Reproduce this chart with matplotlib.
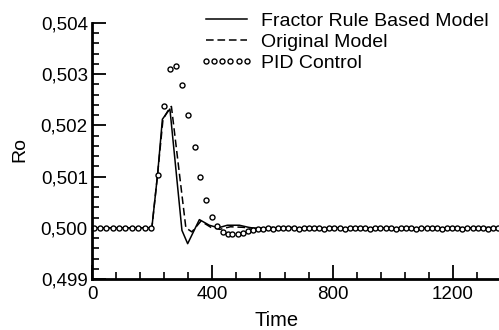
import matplotlib
matplotlib.use("Agg")
import matplotlib.pyplot as plt
from matplotlib.ticker import MultipleLocator, FixedLocator

plt.rcParams['font.family'] = ['Liberation Sans', 'DejaVu Sans']

# ---- data ----
frb_time = [0, 199, 218, 234, 251, 259, 299, 318, 357, 390, 420, 450, 490, 520, 540,
            560, 580, 600, 620, 640, 660, 680, 700, 720, 740, 760, 780, 800, 820, 840,
            860, 880, 900, 920, 940, 960, 980, 1000, 1020, 1040, 1060, 1080, 1100,
            1120, 1140, 1160, 1180, 1200, 1220, 1240, 1260, 1280, 1300, 1320, 1340, 1360]
frb_ro = [0.5, 0.5, 0.50104, 0.50212, 0.50226, 0.50232, 0.49995, 0.49969, 0.50016,
          0.50005, 0.50000, 0.50005, 0.50005, 0.50001, 0.49999,
          0.50000, 0.49999, 0.50001, 0.49999, 0.50000, 0.50001, 0.49999, 0.50000,
          0.50001, 0.49999, 0.50000, 0.49999, 0.50001, 0.50000, 0.49999, 0.50000,
          0.50001, 0.49999, 0.50000, 0.50000, 0.49999, 0.50001, 0.50000, 0.49999,
          0.50000, 0.50001, 0.49999, 0.50000, 0.49999, 0.50001, 0.50000, 0.49999,
          0.50000, 0.50001, 0.49999, 0.50000, 0.49999, 0.50000, 0.50001, 0.49999, 0.50000]

orig_time = [0, 199, 218, 236, 252, 264, 312, 332, 362, 395, 425, 460, 500, 540,
             560, 580, 600, 620, 640, 660, 680, 700, 720, 740, 760, 780, 800, 820, 840,
             860, 880, 900, 920, 940, 960, 980, 1000, 1020, 1040, 1060, 1080, 1100,
             1120, 1140, 1160, 1180, 1200, 1220, 1240, 1260, 1280, 1300, 1320, 1340, 1360]
orig_ro = [0.5, 0.5, 0.50104, 0.50212, 0.50228, 0.50237, 0.50000, 0.49992, 0.50013,
           0.50001, 0.49997, 0.50002, 0.50001, 0.49999,
           0.49999, 0.50000, 0.49999, 0.50000, 0.49999, 0.49999, 0.50000, 0.49999,
           0.50000, 0.49999, 0.49999, 0.50000, 0.49999, 0.49999, 0.50000, 0.49999,
           0.50000, 0.49999, 0.49999, 0.50000, 0.49999, 0.49999, 0.50000, 0.49999,
           0.49999, 0.50000, 0.49999, 0.49999, 0.50000, 0.49999, 0.49999, 0.50000,
           0.49999, 0.49999, 0.50000, 0.49999, 0.49999, 0.50000, 0.49999, 0.49999, 0.50000]

pid_time = [6, 27, 48, 69, 90, 111, 132, 153, 175, 197, 218, 238, 258, 278, 299, 320,
            341, 360, 380, 400, 416, 434, 451, 467, 484, 501, 517, 534,
            551, 568, 585, 602, 619, 636, 653, 670, 687, 704, 721, 738, 755, 772, 789,
            806, 823, 840, 857, 874, 891, 908, 925, 942, 959, 976, 993, 1010, 1027,
            1044, 1061, 1078, 1095, 1112, 1129, 1146, 1163, 1180, 1197, 1214, 1231,
            1248, 1265, 1282, 1299, 1316, 1333, 1350]
pid_ro = [0.5, 0.5, 0.5, 0.5, 0.5, 0.5, 0.5, 0.5, 0.5, 0.5,
          0.50104, 0.50238, 0.50310, 0.50316, 0.50279, 0.50221, 0.50157, 0.50099,
          0.50055, 0.50021, 0.50004, 0.49992, 0.49988, 0.49987, 0.49988, 0.49990,
          0.49993, 0.49996,
          0.49997, 0.49998, 0.49999, 0.49998, 0.49999, 0.49999, 0.50000, 0.49999,
          0.49998, 0.49999, 0.50000, 0.49999, 0.49999, 0.49998, 0.49999, 0.50000,
          0.49999, 0.49998, 0.49999, 0.49999, 0.50000, 0.49999, 0.49998, 0.49999,
          0.49999, 0.50000, 0.49999, 0.49998, 0.49999, 0.50000, 0.49999, 0.49998,
          0.49999, 0.49999, 0.50000, 0.49999, 0.49998, 0.49999, 0.50000, 0.49999,
          0.49998, 0.49999, 0.49999, 0.50000, 0.49999, 0.49998, 0.49999, 0.49999]

x_ticks = [0, 400, 800, 1200]
x_ticklabels = ["0", "400", "800", "1200"]
y_ticks = [0.499, 0.500, 0.501, 0.502, 0.503, 0.504]
y_ticklabels = ["0,499", "0,500", "0,501", "0,502", "0,503", "0,504"]
labels = ["Fractor Rule Based Model", "Original Model", "PID Control"]

# ---- figure ----
fig = plt.figure(figsize=(4.99, 3.30), dpi=100)
ax = fig.add_axes([92 / 499, 1 - 279 / 330, 1 - 92 / 499, (279 - 23) / 330])

ax.plot(frb_time, frb_ro, color='black', lw=1.1, label=labels[0])
ax.plot(orig_time, orig_ro, color='black', lw=1.1, dashes=(5, 2.5), label=labels[1])
ax.plot(pid_time, pid_ro, linestyle='none', marker='o', markersize=3.6,
        markerfacecolor='white', markeredgecolor='black', markeredgewidth=1.0,
        label=labels[2], clip_on=False)

ax.set_xlim(0, 1353)
ax.set_ylim(0.499, 0.504)

for s in ['top', 'right']:
    ax.spines[s].set_visible(False)
for s in ['left', 'bottom']:
    ax.spines[s].set_linewidth(2.0)

ax.xaxis.set_major_locator(FixedLocator(x_ticks))
ax.set_xticklabels(x_ticklabels)
ax.xaxis.set_minor_locator(MultipleLocator(80))
ax.yaxis.set_major_locator(FixedLocator(y_ticks))
ax.set_yticklabels(y_ticklabels)
ax.yaxis.set_minor_locator(MultipleLocator(0.0002))

ax.tick_params(which='major', direction='in', length=10, width=1.3, labelsize=13.5, pad=3)
ax.tick_params(which='minor', direction='in', length=5, width=1.2)
ax.tick_params(axis='x', which='major', pad=5)

fig.text(20 / 499, 1 - 150 / 330, "Ro", fontsize=14, rotation=90, ha='center', va='center')
fig.text(277 / 499, 1 - 320 / 330, "Time", fontsize=14.5, ha='center', va='center')

leg = ax.legend(loc='upper left', bbox_to_anchor=(200 / 499, 1 - 12 / 330),
                bbox_transform=fig.transFigure, frameon=False, fontsize=14,
                handlelength=2.7, handletextpad=0.46, labelspacing=0.18,
                borderpad=0, borderaxespad=0, numpoints=6)

fig.savefig("out.png", dpi=100)
